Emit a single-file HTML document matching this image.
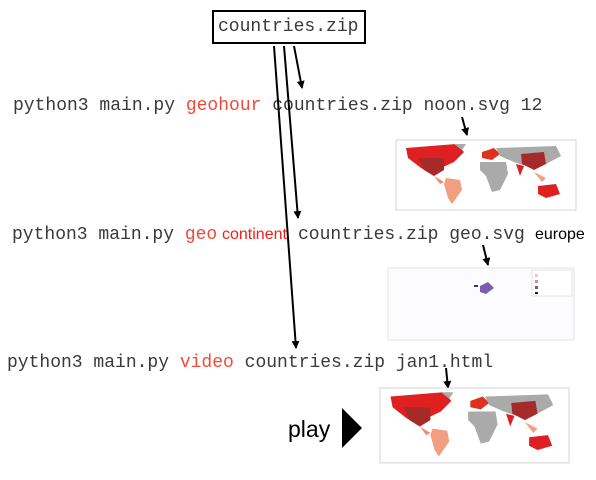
<!DOCTYPE html>
<html><head><style>
body{margin:0;width:596px;height:480px;background:#fff;position:relative;overflow:hidden;font-family:"Liberation Mono",monospace}
.t{position:absolute;font-size:18px;color:#3a3a3a;white-space:pre;line-height:20px}
.r{color:#ef4a3a}
.s{position:absolute;font-family:"Liberation Sans",sans-serif;font-size:16px;line-height:20px;white-space:pre}
</style></head><body>
<div style="position:absolute;left:212px;top:10px;width:150px;height:30px;border:2px solid #000;"></div>
<div class="t" style="left:218px;top:17px">countries.zip</div>
<div class="t" style="left:13px;top:96px">python3 main.py <span class="r">geohour</span> countries.zip noon.svg 12</div>
<div class="t" style="left:12px;top:225px">python3 main.py <span class="r">geo</span></div>
<div class="s" style="left:222px;top:225px;color:#f0201a">continent</div>
<div class="t" style="left:298px;top:225px">countries.zip geo.svg</div>
<div class="s" style="left:535px;top:225px;color:#000">europe</div>
<div class="t" style="left:7px;top:353px">python3 main.py <span class="r">video</span> countries.zip jan1.html</div>
<div style="position:absolute;left:288px;top:416px;font-family:'Liberation Sans',sans-serif;font-size:23px;color:#000">play</div>

<svg width="596" height="480" style="position:absolute;left:0;top:0">
<defs>
<marker id="a" markerWidth="8" markerHeight="8" refX="7" refY="4" orient="auto" markerUnits="userSpaceOnUse"><path d="M0,0 L8,4 L0,8z"/></marker>
<g id="map">
<rect x="0" y="0" width="180" height="70" fill="#fff" stroke="#ccc" stroke-width="0.8"/>
<path d="M10,8 L60,4 L68,12 L58,22 L45,28 L38,36 L25,28 L12,18z" fill="#e02020"/>
<path d="M22,18 L48,18 L48,30 L38,36 L28,30z" fill="#a52a2a"/>
<path d="M38,36 L48,42 L44,44z" fill="#f08a6a"/>
<path d="M50,38 L64,40 L66,50 L56,64 L52,58 L48,44z" fill="#f0a080"/>
<path d="M58,4 L70,4 L66,10z" fill="#aaa"/>
<path d="M86,12 L98,8 L104,14 L96,20 L86,18z" fill="#e03020"/>
<path d="M84,22 L110,22 L112,34 L104,50 L96,52 L90,36 L84,30z" fill="#aaa"/>
<path d="M100,8 L160,6 L165,16 L150,24 L140,28 L130,26 L118,22 L104,16z" fill="#aaa"/>
<path d="M125,14 L148,12 L150,24 L138,30 L126,24z" fill="#a52a2a"/>
<path d="M120,24 L128,26 L124,36z" fill="#e02020"/>
<path d="M138,32 L150,38 L146,42z" fill="#f0a080"/>
<path d="M142,46 L160,44 L164,54 L150,58 L142,54z" fill="#e02020"/>
</g>
</defs>
<g fill="none" stroke="#000" stroke-width="2">
<line x1="274" y1="46" x2="296" y2="348" marker-end="url(#a)"/>
<line x1="284" y1="46" x2="298" y2="218" marker-end="url(#a)"/>
<line x1="294" y1="46" x2="302" y2="88" marker-end="url(#a)"/>
<line x1="462" y1="117" x2="467" y2="135" marker-end="url(#a)"/>
<line x1="483" y1="245" x2="488" y2="265" marker-end="url(#a)"/>
<line x1="446" y1="368" x2="448" y2="388" marker-end="url(#a)"/>
</g>
<use href="#map" x="396" y="140"/>
<use href="#map" x="380" y="388" transform="translate(380,388) scale(1.05,1.07) translate(-380,-388)"/>
<polygon points="342,408 362,428 342,448" fill="#000"/>
<g transform="translate(388,268)">
<rect x="0" y="0" width="186" height="72" fill="#fcfcfe" stroke="#ddd" stroke-width="0.8"/>
<rect x="144" y="2" width="40" height="26" fill="#fff" stroke="#ccc" stroke-width="0.5"/>
<rect x="147" y="6" width="3" height="3" fill="#dcd"/><rect x="147" y="12" width="3" height="3" fill="#a9c"/><rect x="147" y="18" width="3" height="3" fill="#758"/><rect x="147" y="24" width="3" height="2" fill="#315"/>
<path d="M92,18 L100,14 L106,20 L98,26 L92,24z" fill="#7a5cb0"/>
<rect x="86" y="17" width="4" height="2" fill="#4a2a90"/>
</g>
</svg>
</body></html>
